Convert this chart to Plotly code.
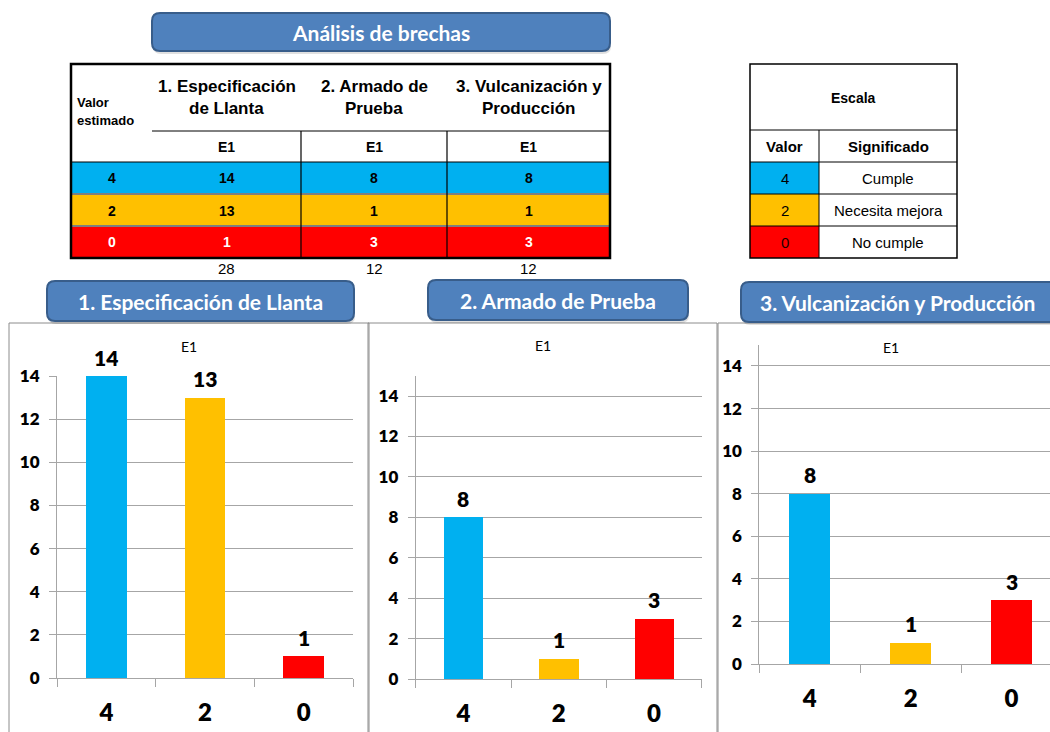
import plotly.graph_objects as go

W, H = 1050, 732

# ---------------- data ----------------
categories = ["4", "2", "0"]
esp_llanta = [14, 13, 1]
armado = [8, 1, 3]
vulcan = [8, 1, 3]
bar_colors = ["#00B0F0", "#FFC000", "#FF0000"]

stage_titles = ["1. Especificación de Llanta", "2. Armado de Prueba", "3. Vulcanización y Producción"]
stage_header_lines = [["1. Especificación", "de Llanta"], ["2. Armado de", "Prueba"], ["3. Vulcanización y", "Producción"]]
series_label = "E1"
escala_valor = ["4", "2", "0"]
escala_signif = ["Cumple", "Necesita mejora", "No cumple"]
main_title = "Análisis de brechas"

TABLE_FONT = "Liberation Sans, Arial, sans-serif"
CHART_FONT = "Lato, Carlito, Calibri, sans-serif"
BTN_FILL = "#4F81BD"
BTN_LINE = "#385D8A"
GRID = "#A6A6A6"
NUM_WEIGHT = 800


def X(px):
    return px / W


def Y(py):
    return 1 - py / H


shapes = []
annotations = []


def rect(x0, y0, x1, y1, fill=None, line_color=None, line_width=0, layer="above"):
    shapes.append(dict(type="rect", xref="paper", yref="paper",
                       x0=X(x0), x1=X(x1), y0=Y(y1), y1=Y(y0),
                       fillcolor=fill if fill else "rgba(0,0,0,0)",
                       line=dict(color=line_color if line_color else "rgba(0,0,0,0)", width=line_width),
                       layer=layer))


def line(x0, y0, x1, y1, color="#000", width=1):
    shapes.append(dict(type="line", xref="paper", yref="paper",
                       x0=X(x0), x1=X(x1), y0=Y(y0), y1=Y(y1),
                       line=dict(color=color, width=width)))


def text(x, y, s, size, bold=False, color="#000", family=TABLE_FONT, xanchor="center"):
    annotations.append(dict(xref="paper", yref="paper", x=X(x), y=Y(y), text=("<b>%s</b>" % s) if bold else s,
                            showarrow=False, xanchor=xanchor, yanchor="middle",
                            font=dict(size=size, color=color, family=family)))


def rounded_button(x0, y0, x1, y1, r, label, size, text_cx=None):
    def path(ax0, ay0, ax1, ay1):
        return ("M {a},{b} L {c},{b} Q {d},{b} {d},{e} L {d},{f} Q {d},{g} {c},{g} "
                "L {a},{g} Q {h},{g} {h},{f} L {h},{e} Q {h},{b} {a},{b} Z").format(
            a=X(ax0 + r), b=Y(ay0), c=X(ax1 - r), d=X(ax1), e=Y(ay0 + r),
            f=Y(ay1 - r), g=Y(ay1), h=X(ax0))
    shapes.append(dict(type="path", xref="paper", yref="paper", path=path(x0 + 1, y0 + 3, x1 + 1, y1 + 3),
                       fillcolor="rgba(0,0,0,0.12)", line=dict(width=0)))
    shapes.append(dict(type="path", xref="paper", yref="paper", path=path(x0, y0, x1, y1),
                       fillcolor=BTN_FILL, line=dict(color=BTN_LINE, width=2)))
    cx = text_cx if text_cx is not None else (x0 + x1) / 2
    text(cx, (y0 + y1) / 2, label, size, bold=True, color="white", family=CHART_FONT)


# ---------------- main title ----------------
rounded_button(152, 13, 610, 51, 8, main_title, 21)

# ---------------- main table ----------------
col_x = [71, 152, 301, 447, 610]
t_top, hdr_bot, e1_bot = 64, 131, 162
row_y = [162, 194, 226, 258]
series_vals = [esp_llanta, armado, vulcan]

for i, c in enumerate(bar_colors):
    rect(col_x[0], row_y[i], col_x[-1], row_y[i + 1], fill=c)
line(col_x[0], row_y[1], col_x[-1], row_y[1], color="#7F7F7F", width=2)
line(col_x[0], row_y[2], col_x[-1], row_y[2], color="#7F7F7F", width=2)
line(col_x[1], hdr_bot, col_x[-1], hdr_bot, color="#000", width=1)
line(col_x[0], e1_bot, col_x[-1], e1_bot, color="#000", width=1)
for cx in col_x[2:4]:
    line(cx, hdr_bot, cx, row_y[-1], color="#000", width=1.2)
rect(col_x[0], t_top, col_x[-1], row_y[-1], line_color="#000", line_width=2.5)

text(75, 103, "Valor", 13, bold=True, xanchor="left")
text(75, 120.5, "estimado", 13, bold=True, xanchor="left")
for j, lines in enumerate(stage_header_lines):
    cx = (col_x[j + 1] + col_x[j + 2]) / 2
    text(cx, 86.5, lines[0], 17, bold=True)
    text(cx, 108.5, lines[1], 17, bold=True)
    text(cx, 146.5, series_label, 14, bold=True)
    for i in range(3):
        color = "white" if i == 2 else "#000"
        text(cx, (row_y[i] + row_y[i + 1]) / 2 + 0.5, str(series_vals[j][i]), 14, bold=True, color=color)
    text(cx, 268, str(sum(series_vals[j])), 15)
for i, v in enumerate(categories):
    color = "white" if i == 2 else "#000"
    text((col_x[0] + col_x[1]) / 2, (row_y[i] + row_y[i + 1]) / 2 + 0.5, v, 14, bold=True, color=color)

# ---------------- escala table ----------------
ex = [750, 819, 957]
ey = [64, 130, 162, 194, 226, 258]
for i, c in enumerate(bar_colors):
    rect(ex[0], ey[i + 2], ex[1], ey[i + 3], fill=c)
for yy in ey[1:-1]:
    line(ex[0], yy, ex[2], yy, color="#000", width=1)
line(ex[1], ey[1], ex[1], ey[-1], color="#000", width=1)
rect(ex[0], ey[0], ex[2], ey[-1], line_color="#000", line_width=1.5)
text((ex[0] + ex[2]) / 2, 98, "Escala", 14, bold=True)
text((ex[0] + ex[1]) / 2, 146.5, "Valor", 15, bold=True)
text((ex[1] + ex[2]) / 2, 146.5, "Significado", 15, bold=True)
for i in range(3):
    yc = (ey[i + 2] + ey[i + 3]) / 2 + 0.5
    text((ex[0] + ex[1]) / 2, yc, escala_valor[i], 15, color="#1a0000" if i == 2 else "#000")
    text((ex[1] + ex[2]) / 2, yc, escala_signif[i], 15)

# ---------------- charts ----------------
charts = [
    dict(vals=esp_llanta, xdom=(57, 353), ydom=(376, 678), ymax=14, xr=None,
         frame=(9, 323, 369), btn=(47, 281, 354, 321), tcx=None, e1=(189, 346), xstand=13),
    dict(vals=armado, xdom=(415.7, 701.7), ydom=(375.8, 679), ymax=15, xr=None,
         frame=(368, 323, 717), btn=(428, 280, 688, 320), tcx=None, e1=(542.7, 345), xstand=13),
    dict(vals=vulcan, xdom=(759.3, 1050), ydom=(344.7, 664), ymax=15,
         xr=[-0.5, -0.5 + 3 * (1050 - 759.3) / (1062 - 759.3)],
         frame=(718, 323, 1060), btn=(741, 282, 1058, 322), tcx=897, e1=(891, 347), xstand=13),
]

fig = go.Figure()
layout_axes = {}
for k, ch in enumerate(charts):
    n = "" if k == 0 else str(k + 1)
    xa, ya = "x" + n, "y" + n
    fig.add_trace(go.Bar(x=categories, y=ch["vals"], marker=dict(color=bar_colors, line=dict(width=0)),
                         width=0.41, xaxis=xa, yaxis=ya, showlegend=False, hoverinfo="skip"))
    xaxis = dict(domain=[X(ch["xdom"][0]), X(ch["xdom"][1])], anchor=ya, type="category",
                 showgrid=False, showline=True, linecolor=GRID, linewidth=1,
                 ticks="outside", ticklen=8, tickcolor=GRID, tickwidth=1, tickson="boundaries",
                 tickfont=dict(family=CHART_FONT, size=24, color="#000", weight=NUM_WEIGHT),
                 ticklabelstandoff=ch["xstand"], fixedrange=True, zeroline=False, automargin=False)
    xaxis["range"] = ch["xr"] if ch["xr"] else [-0.5, 2.5]
    yaxis = dict(domain=[Y(ch["ydom"][1]), Y(ch["ydom"][0])], anchor=xa, range=[0, ch["ymax"]],
                 dtick=2, tick0=0, showgrid=True, gridcolor=GRID, gridwidth=1,
                 showline=True, linecolor=GRID, linewidth=1, zeroline=False,
                 ticks="outside", ticklen=7, tickcolor=GRID, tickwidth=1,
                 tickfont=dict(family=CHART_FONT, size=17, color="#000", weight=NUM_WEIGHT),
                 ticklabelstandoff=6, fixedrange=True, automargin=False)
    layout_axes["xaxis" + n] = xaxis
    layout_axes["yaxis" + n] = yaxis
    for i, v in enumerate(ch["vals"]):
        annotations.append(dict(xref=xa, yref=ya, x=i, y=v, text=str(v), showarrow=False,
                                yanchor="middle", yshift=19,
                                font=dict(family=CHART_FONT, size=21, color="#000", weight=NUM_WEIGHT)))
    text(ch["e1"][0], ch["e1"][1], series_label, 14, family=CHART_FONT)
    fx0, fy0, fx1 = ch["frame"]
    rect(fx0, fy0, fx1, 740, line_color="#8C8C8C", line_width=1, layer="below")
    bx0, by0, bx1, by1 = ch["btn"]
    rounded_button(bx0, by0, bx1, by1, 8, stage_titles[k], 21, text_cx=ch["tcx"])

fig.update_layout(width=W, height=H, margin=dict(l=0, r=0, t=0, b=0, autoexpand=False),
                  paper_bgcolor="white", plot_bgcolor="rgba(0,0,0,0)",
                  shapes=shapes, annotations=annotations, bargap=0, **layout_axes)

fig.write_html("out.html")
